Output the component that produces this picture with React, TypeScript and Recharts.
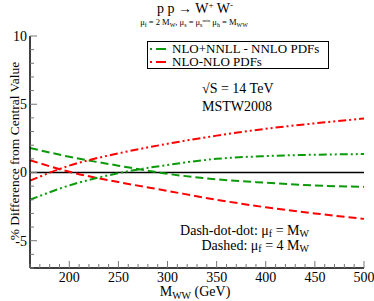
import { LineChart, Line, XAxis, YAxis, ReferenceLine, Legend } from 'recharts';

document.body.style.margin = '0';

const mww = [160, 200, 250, 300, 350, 400, 450, 500];
// NLO+NNLL - NNLO PDFs
const nnllMuMw = [-2.0, -0.95, -0.05, 0.55, 1.0, 1.2, 1.3, 1.35];
const nnllMu4Mw = [1.8, 1.15, 0.5, -0.1, -0.5, -0.75, -0.95, -1.05];
// NLO-NLO PDFs
const nloMuMw = [-0.6, 0.5, 1.4, 2.1, 2.7, 3.2, 3.6, 3.95];
const nloMu4Mw = [0.9, 0.05, -0.7, -1.35, -2.0, -2.55, -3.0, -3.4];

const xMajor = [200, 250, 300, 350, 400, 450, 500];
const xMinor = [160, 170, 180, 190, 210, 220, 230, 240, 260, 270, 280, 290, 310, 320, 330, 340, 360, 370, 380, 390, 410, 420, 430, 440, 460, 470, 480, 490];
const yMajor = [-5, 0, 5, 10];
const yMinor = [-7, -6, -4, -3, -2, -1, 1, 2, 3, 4, 6, 7, 8, 9];

const data = mww.map((m, i) => ({
  mww: m,
  nnllMw: nnllMuMw[i],
  nnll4Mw: nnllMu4Mw[i],
  nloMw: nloMuMw[i],
  nlo4Mw: nloMu4Mw[i],
}));

const xTicks = [...xMajor, ...xMinor].sort((a, b) => a - b);
const yTicks = [...yMajor, ...yMinor].sort((a, b) => a - b);

const GREEN = '#0a9a0a';
const RED = '#ff0000';
const DASHED = '8 4';
const DDOT = '8 3 2 3 2 3';
const FONT = 'Liberation Serif';
const serif = { fontFamily: FONT };
const TICK = '#777';

const legendColor: Record<string, string> = {
  'NLO+NNLL - NNLO PDFs': GREEN,
  'NLO-NLO PDFs': RED,
};

function tickBottom(props: any) {
  const { x, y, payload } = props;
  const major = xMajor.includes(payload.value);
  return (
    <g>
      <line x1={x} x2={x} y1={y} y2={y - (major ? 7 : 4)} stroke={TICK} />
      {major && (
        <text x={x} y={y + 14} textAnchor="middle" fontSize={14} style={serif} fill="#000">
          {payload.value}
        </text>
      )}
    </g>
  );
}

function tickTop(props: any) {
  const { x, y, payload } = props;
  const major = xMajor.includes(payload.value);
  return <line x1={x} x2={x} y1={y} y2={y + (major ? 7 : 4)} stroke={TICK} />;
}

function tickLeft(props: any) {
  const { x, y, payload } = props;
  const major = yMajor.includes(payload.value);
  return (
    <g>
      <line x1={x} x2={x + (major ? 7 : 4)} y1={y} y2={y} stroke={TICK} />
      {major && (
        <text x={x - 3} y={y + 5} textAnchor="end" fontSize={14} style={serif} fill="#000">
          {payload.value}
        </text>
      )}
    </g>
  );
}

function tickRight(props: any) {
  const { x, y, payload } = props;
  const major = yMajor.includes(payload.value);
  return <line x1={x} x2={x - (major ? 7 : 4)} y1={y} y2={y} stroke={TICK} />;
}

function LegendBox(props: any) {
  const items = (props.payload || []).filter((p: any) => legendColor[p.value]);
  return (
    <div
      style={{
        border: '1px solid #000',
        background: '#fff',
        width: 180,
        height: 26,
        fontFamily: FONT,
        fontSize: 13,
        lineHeight: '13px',
        boxSizing: 'content-box',
        overflow: 'hidden',
      }}
    >
      {items.map((p: any) => (
        <div key={p.value} style={{ display: 'flex', alignItems: 'center', whiteSpace: 'nowrap', height: 13 }}>
          <svg width={22} height={12}>
            <line x1={2} x2={20} y1={6} y2={6} stroke={legendColor[p.value]} strokeWidth={2} strokeDasharray="2 4 10 3" />
          </svg>
          <span style={{ marginLeft: 2 }}>{p.value}</span>
        </div>
      ))}
    </div>
  );
}

export default function App() {
  return (
    <div style={{ position: 'relative', width: 374, height: 301, background: '#fff', fontFamily: FONT }}>
      <LineChart width={374} height={301} data={data} margin={{ top: 36, right: 10, bottom: 0, left: 0 }}>
        <XAxis
          xAxisId="b"
          dataKey="mww"
          type="number"
          domain={[160, 500]}
          ticks={xTicks}
          interval={0}
          height={33}
          tickSize={0}
          tickMargin={0}
          tickLine={false}
          tick={tickBottom}
          axisLine={{ stroke: '#000', strokeWidth: 1.5 }}
        />
        <XAxis
          xAxisId="t"
          orientation="top"
          type="number"
          domain={[160, 500]}
          ticks={xTicks}
          interval={0}
          height={0}
          tickSize={0}
          tickMargin={0}
          tickLine={false}
          tick={tickTop}
          axisLine={{ stroke: '#000', strokeWidth: 1.5 }}
        />
        <YAxis
          yAxisId="l"
          type="number"
          domain={[-7, 10]}
          ticks={yTicks}
          interval={0}
          width={30}
          tickSize={0}
          tickMargin={0}
          tickLine={false}
          tick={tickLeft}
          axisLine={{ stroke: '#000', strokeWidth: 1.5 }}
        />
        <YAxis
          yAxisId="r"
          orientation="right"
          type="number"
          domain={[-7, 10]}
          ticks={yTicks}
          interval={0}
          width={0}
          tickSize={0}
          tickMargin={0}
          tickLine={false}
          tick={tickRight}
          axisLine={{ stroke: '#000', strokeWidth: 1.5 }}
        />
        <ReferenceLine xAxisId="b" yAxisId="l" y={0} stroke="#000" strokeWidth={1.5} />
        <Line xAxisId="b" yAxisId="l" type="monotone" dataKey="nnll4Mw" name="nnll4" legendType="none" stroke={GREEN} strokeWidth={2} strokeDasharray={DASHED} dot={false} isAnimationActive={false} />
        <Line xAxisId="b" yAxisId="l" type="monotone" dataKey="nlo4Mw" name="nlo4" legendType="none" stroke={RED} strokeWidth={2} strokeDasharray={DASHED} dot={false} isAnimationActive={false} />
        <Line xAxisId="b" yAxisId="l" type="monotone" dataKey="nnllMw" name="NLO+NNLL - NNLO PDFs" stroke={GREEN} strokeWidth={2} strokeDasharray={DDOT} dot={false} isAnimationActive={false} />
        <Line xAxisId="b" yAxisId="l" type="monotone" dataKey="nloMw" name="NLO-NLO PDFs" stroke={RED} strokeWidth={2} strokeDasharray={DDOT} dot={false} isAnimationActive={false} />
        <Legend
          layout="horizontal"
          verticalAlign="middle"
          align="center"
          content={LegendBox}
          wrapperStyle={{ position: 'absolute', left: 147, top: 41, width: 182, height: 28 }}
        />
      </LineChart>
      <svg width={374} height={301} style={{ position: 'absolute', left: 0, top: 0, pointerEvents: 'none', fontFamily: FONT }}>
        <text x={195} y={13} textAnchor="middle" fontSize={14}>
          p p → W<tspan dy={-5} fontSize={9}>+</tspan>
          <tspan dy={5}> W</tspan>
          <tspan dy={-5} fontSize={9}>-</tspan>
        </text>
        <text x={194} y={25} textAnchor="middle" fontSize={8.5}>
          μ<tspan dy={2} fontSize={6}>f</tspan>
          <tspan dy={-2}> = 2 M</tspan>
          <tspan dy={2} fontSize={6}>W</tspan>
          <tspan dy={-2}>, μ</tspan>
          <tspan dy={2} fontSize={6}>s</tspan>
          <tspan dy={-2}> = μ</tspan>
          <tspan dy={2} fontSize={6}>s</tspan>
          <tspan dy={-5} fontSize={5}>min</tspan>
          <tspan dy={3}>{'    '}μ</tspan>
          <tspan dy={2} fontSize={6}>h</tspan>
          <tspan dy={-2}> = M</tspan>
          <tspan dy={2} fontSize={6}>WW</tspan>
        </text>
        <text x={202} y={93} fontSize={14}>√S = 14 TeV</text>
        <text x={202} y={111} fontSize={14}>MSTW2008</text>
        <text x={309} y={235} textAnchor="end" fontSize={14}>
          Dash-dot-dot: μ<tspan dy={2} fontSize={10}>f</tspan>
          <tspan dy={-2}> = M</tspan>
          <tspan dy={2} fontSize={10}>W</tspan>
        </text>
        <text x={309} y={250} textAnchor="end" fontSize={14}>
          Dashed: μ<tspan dy={2} fontSize={10}>f</tspan>
          <tspan dy={-2}> = 4 M</tspan>
          <tspan dy={2} fontSize={10}>W</tspan>
        </text>
        <text x={195} y={296} textAnchor="middle" fontSize={14}>
          M<tspan dy={3} fontSize={10}>WW</tspan>
          <tspan dy={-3}> (GeV)</tspan>
        </text>
        <text transform="translate(19,151) rotate(-90)" textAnchor="middle" fontSize={13.5}>
          % Difference from Central Value
        </text>
      </svg>
    </div>
  );
}
